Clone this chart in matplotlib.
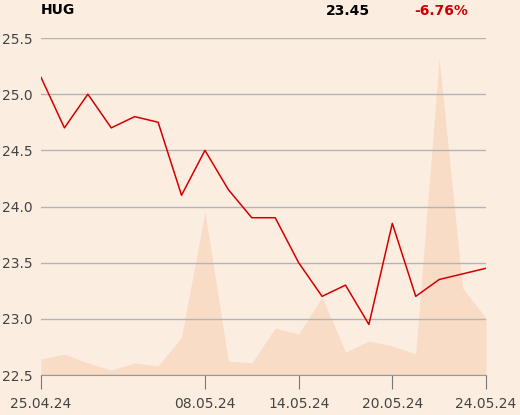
import matplotlib.pyplot as plt

# closing prices, one per trading day
price = [25.15, 24.7, 25.0, 24.7, 24.8, 24.75, 24.1, 24.5, 24.15, 23.9,
         23.9, 23.5, 23.2, 23.3, 22.95, 23.85, 23.2, 23.35, 23.4, 23.45]
# volume (arbitrary units)
volume = [16, 21, 12, 5, 12, 9, 38, 163, 14, 12,
          47, 41, 78, 23, 34, 29, 21, 317, 87, 57]
tick_idx = [0, 7, 11, 15, 19]
tick_lbl = ['25.04.24', '08.05.24', '14.05.24', '20.05.24', '24.05.24']
yticks = [22.5, 23.0, 23.5, 24.0, 24.5, 25.0, 25.5]

bg = '#fcede1'
fig = plt.figure(figsize=(5.2, 4.15), dpi=100, facecolor=bg)
ax = fig.add_axes([41/520, 40/415, 445/520, 337/415])
ax.set_facecolor(bg)
x = list(range(len(price)))

# volume on its own hidden axis behind the price
axv = ax.twinx()
axv.fill_between(x, volume, 0, color='#f8dcc6', lw=0)
axv.set_ylim(0, 337)
axv.axis('off')
ax.set_zorder(axv.get_zorder() + 1)
ax.patch.set_visible(False)
axv.patch.set_facecolor(bg)

ax.plot(x, price, color='#d40000', lw=1.1)
ax.set_xlim(0, 19)
ax.set_ylim(22.5, 25.5)
ax.set_yticks(yticks)
ax.set_yticklabels(['%.1f' % v for v in yticks])
ax.grid(axis='y', color='#b4b4b4', lw=1)
ax.set_axisbelow(True)
ax.set_xticks(tick_idx)
ax.set_xticklabels(tick_lbl)
ax.tick_params(axis='y', length=0, pad=6, labelsize=10, labelcolor='#444444')
ax.tick_params(axis='x', length=10, color='#777777', pad=6, labelsize=10,
               labelcolor='#444444')
for s in ['top', 'right', 'left']:
    ax.spines[s].set_visible(False)
ax.spines['bottom'].set_color('#999999')

fig.text(41/520, 1 - 10/415, 'HUG', fontsize=10, fontweight='bold', va='center')
fig.text(348/520, 1 - 11/415, '23.45', fontsize=10, fontweight='bold',
         va='center', ha='center')
fig.text(441/520, 1 - 11/415, '-6.76%', fontsize=10, fontweight='bold',
         va='center', ha='center', color='#cc0000')

fig.savefig('out.png', facecolor=bg)
